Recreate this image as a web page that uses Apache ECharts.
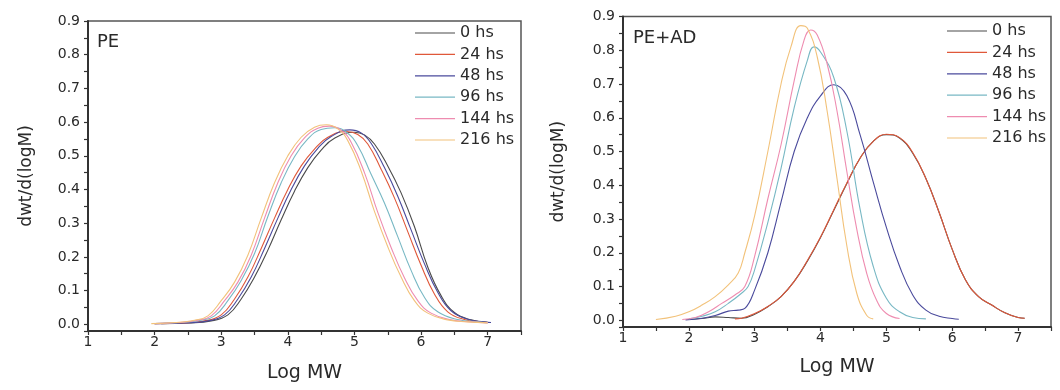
<!DOCTYPE html>
<html>
<head>
<meta charset="utf-8">
<script src="https://cdn.jsdelivr.net/npm/echarts@6/dist/echarts.min.js"></script>
<style>
html,body{margin:0;padding:0;background:#fff;}
#chart{width:1060px;height:390px;}
</style>
</head>
<body>
<div id="chart"></div>
<script>
// ---- data ----
const seriesNames = ['0 hs', '24 hs', '48 hs', '96 hs', '144 hs', '216 hs'];
const panelTitles = ['PE', 'PE+AD'];
const xAxisTitle = 'Log MW';
const yAxisTitle = 'dwt/d(logM)';

// PE panel: [log MW, dwt/d(logM)]
const pe_0hs = [[2.1,0.002],[2.5,0.004],[2.85,0.01],[3.1,0.028],[3.3,0.075],[3.5,0.14],[3.7,0.22],[3.9,0.31],[4.1,0.395],[4.3,0.465],[4.5,0.517],[4.7,0.552],[5.0,0.57],[5.15,0.562],[5.3,0.535],[5.5,0.47],[5.7,0.39],[5.9,0.29],[6.1,0.17],[6.3,0.085],[6.5,0.035],[6.75,0.013],[7.0,0.006]];
const pe_24hs = [[2.0,0.002],[2.4,0.004],[2.75,0.01],[3.0,0.028],[3.2,0.075],[3.4,0.14],[3.6,0.225],[3.8,0.315],[4.0,0.4],[4.2,0.47],[4.4,0.52],[4.6,0.555],[4.88,0.572],[5.05,0.563],[5.2,0.535],[5.4,0.46],[5.6,0.375],[5.8,0.275],[6.0,0.175],[6.2,0.09],[6.4,0.037],[6.65,0.014],[6.9,0.007],[7.0,0.005]];
const pe_48hs = [[2.0,0.002],[2.45,0.004],[2.8,0.01],[3.05,0.028],[3.25,0.075],[3.45,0.14],[3.65,0.225],[3.85,0.315],[4.05,0.4],[4.25,0.47],[4.45,0.522],[4.65,0.557],[4.93,0.577],[5.1,0.568],[5.25,0.537],[5.45,0.465],[5.65,0.38],[5.85,0.28],[6.05,0.18],[6.25,0.095],[6.45,0.04],[6.7,0.015],[6.95,0.007],[7.05,0.005]];
const pe_96hs = [[2.0,0.002],[2.4,0.005],[2.7,0.012],[2.9,0.025],[3.1,0.07],[3.3,0.13],[3.5,0.21],[3.7,0.32],[3.9,0.42],[4.1,0.497],[4.3,0.55],[4.5,0.578],[4.7,0.583],[4.88,0.57],[5.05,0.53],[5.25,0.445],[5.45,0.36],[5.65,0.26],[5.85,0.16],[6.05,0.08],[6.25,0.037],[6.55,0.014],[6.85,0.007],[7.0,0.005]];
const pe_144hs = [[2.0,0.002],[2.35,0.005],[2.65,0.012],[2.85,0.025],[3.05,0.07],[3.25,0.125],[3.45,0.205],[3.65,0.315],[3.85,0.42],[4.05,0.5],[4.25,0.553],[4.45,0.582],[4.62,0.588],[4.8,0.576],[4.95,0.54],[5.15,0.45],[5.35,0.332],[5.55,0.228],[5.75,0.138],[5.95,0.07],[6.15,0.033],[6.45,0.013],[6.75,0.007],[7.0,0.004]];
const pe_216hs = [[1.95,0.002],[2.3,0.005],[2.6,0.012],[2.8,0.025],[3.0,0.07],[3.2,0.125],[3.4,0.205],[3.6,0.315],[3.8,0.42],[4.0,0.5],[4.2,0.555],[4.4,0.585],[4.58,0.592],[4.75,0.58],[4.9,0.545],[5.1,0.455],[5.3,0.335],[5.5,0.23],[5.7,0.14],[5.9,0.07],[6.1,0.033],[6.4,0.013],[6.7,0.007],[7.0,0.004]];

// PE+AD panel
const ad_0hs = [[2.0,0.002],[2.2,0.005],[2.4,0.01],[2.6,0.008],[2.8,0.006],[3.0,0.018],[3.2,0.04],[3.4,0.07],[3.6,0.115],[3.8,0.175],[4.0,0.245],[4.2,0.325],[4.4,0.405],[4.6,0.48],[4.8,0.53],[5.0,0.55],[5.2,0.54],[5.4,0.495],[5.6,0.42],[5.8,0.32],[6.0,0.21],[6.2,0.12],[6.4,0.07],[6.6,0.045],[6.8,0.022],[7.0,0.008],[7.1,0.006]];
const ad_24hs = [[2.7,0.004],[2.8,0.006],[3.0,0.02],[3.2,0.041],[3.4,0.07],[3.6,0.115],[3.8,0.177],[4.0,0.247],[4.2,0.327],[4.4,0.407],[4.6,0.48],[4.8,0.53],[5.0,0.551],[5.2,0.541],[5.4,0.497],[5.6,0.42],[5.8,0.32],[6.0,0.21],[6.2,0.12],[6.4,0.07],[6.6,0.045],[6.8,0.022],[7.0,0.008],[7.1,0.006]];
const ad_48hs = [[1.95,0.001],[2.2,0.006],[2.4,0.014],[2.6,0.027],[2.75,0.03],[2.85,0.035],[3.0,0.09],[3.2,0.2],[3.4,0.35],[3.6,0.5],[3.8,0.6],[4.0,0.665],[4.2,0.698],[4.4,0.665],[4.6,0.55],[4.8,0.41],[5.0,0.275],[5.2,0.16],[5.4,0.075],[5.6,0.03],[5.8,0.012],[6.0,0.005],[6.1,0.003]];
const ad_96hs = [[2.0,0.004],[2.2,0.012],[2.4,0.025],[2.6,0.05],[2.8,0.08],[2.9,0.1],[3.0,0.15],[3.2,0.29],[3.4,0.45],[3.6,0.63],[3.8,0.77],[3.9,0.81],[4.0,0.795],[4.2,0.72],[4.4,0.56],[4.6,0.33],[4.8,0.16],[5.0,0.065],[5.2,0.025],[5.4,0.008],[5.6,0.004]];
const ad_144hs = [[1.9,0.002],[2.1,0.008],[2.3,0.025],[2.5,0.05],[2.7,0.075],[2.85,0.1],[3.0,0.19],[3.2,0.36],[3.4,0.52],[3.6,0.71],[3.75,0.83],[3.85,0.86],[3.95,0.845],[4.1,0.76],[4.25,0.62],[4.4,0.44],[4.55,0.27],[4.7,0.14],[4.85,0.06],[5.0,0.02],[5.2,0.005]];
const ad_216hs = [[1.5,0.002],[1.8,0.012],[2.0,0.025],[2.2,0.045],[2.4,0.07],[2.6,0.105],[2.75,0.14],[2.85,0.2],[3.0,0.31],[3.2,0.5],[3.4,0.7],[3.55,0.81],[3.7,0.873],[3.8,0.865],[3.95,0.78],[4.1,0.62],[4.25,0.42],[4.4,0.22],[4.55,0.08],[4.7,0.015],[4.8,0.004]];

const panelData = [
  [pe_0hs, pe_24hs, pe_48hs, pe_96hs, pe_144hs, pe_216hs],
  [ad_0hs, ad_24hs, ad_48hs, ad_96hs, ad_144hs, ad_216hs]
];

// ---- styles ----
const lineColors = ['#4a4a4a', '#e0583a', '#4a4a9c', '#78b8c4', '#ee8cb0', '#f2c27a'];
const FONT = 'DejaVu Sans';
const TXT = '#2a2a2a';

const gridPos = [
  {left: 88, top: 21, width: 433, height: 310},
  {left: 623, top: 16.5, width: 428, height: 310.5}
];
const legendPos = [{left: 415, top: 25}, {left: 947, top: 23}];
const titlePos = [{x: 97, y: 33}, {x: 633, y: 29}];

const chart = echarts.init(document.getElementById('chart'), null, {renderer: 'canvas'});

const grids = [], xAxes = [], yAxes = [], series = [], legends = [], graphics = [];
for (let p = 0; p < 2; p++) {
  grids.push(Object.assign({show: true, borderColor: '#555', borderWidth: 1.5, backgroundColor: 'transparent'}, gridPos[p]));
  xAxes.push({
    type: 'value', gridIndex: p, min: 1, max: 7.5, interval: 0.5,
    name: xAxisTitle, nameLocation: 'middle', nameGap: p === 0 ? 33 : 31,
    nameTextStyle: {fontFamily: FONT, fontSize: 19, color: TXT},
    axisLine: {show: true, onZero: false, lineStyle: {color: '#333', width: 2}},
    axisTick: {show: true, inside: false, length: 4, lineStyle: {color: '#333', width: 1.2}},
    axisLabel: {fontFamily: FONT, fontSize: 14, color: TXT, margin: 4,
      formatter: v => (Math.abs(v - Math.round(v)) < 1e-6 && v <= 7) ? String(Math.round(v)) : ''},
    splitLine: {show: false}
  });
  yAxes.push({
    type: 'value', gridIndex: p, min: -0.02, max: 0.9, splitNumber: 18,
    name: yAxisTitle, nameLocation: 'middle', nameGap: p === 0 ? 53 : 56, nameRotate: 90,
    nameTextStyle: {fontFamily: FONT, fontSize: 17, color: TXT},
    axisLine: {show: true, onZero: false, lineStyle: {color: '#333', width: 2}},
    axisTick: {show: true, inside: false, length: 4, lineStyle: {color: '#333', width: 1.2}},
    axisLabel: {fontFamily: FONT, fontSize: 14, color: TXT, margin: 8,
      formatter: v => {
        const t = v * 10;
        return (v >= -1e-9 && Math.abs(t - Math.round(t)) < 1e-6) ? (Math.round(t) / 10).toFixed(1) : '';
      }},
    splitLine: {show: false}
  });
  panelData[p].forEach((d, i) => {
    series.push({
      name: seriesNames[i], type: 'line', xAxisIndex: p, yAxisIndex: p,
      data: d, smooth: 0.45, symbol: 'none', showSymbol: false,
      lineStyle: {color: lineColors[i], width: 1.1}, itemStyle: {color: lineColors[i]},
      silent: true, z: 2
    });
  });
  legends.push(Object.assign({
    data: seriesNames.map(n => ({name: n, icon: 'rect'})), orient: 'vertical', padding: 0,
    itemWidth: 40, itemHeight: 1.2, itemGap: 5.4,
    textStyle: {fontFamily: FONT, fontSize: 16, lineHeight: 16, color: TXT}, selectedMode: false
  }, legendPos[p]));
  graphics.push({type: 'text', left: titlePos[p].x, top: titlePos[p].y,
    style: {text: panelTitles[p], font: '18px "DejaVu Sans"', fill: TXT}});
}

chart.setOption({
  animation: false,
  backgroundColor: '#fff',
  grid: grids, xAxis: xAxes, yAxis: yAxes, series: series, legend: legends, graphic: graphics
});
</script>
</body>
</html>
